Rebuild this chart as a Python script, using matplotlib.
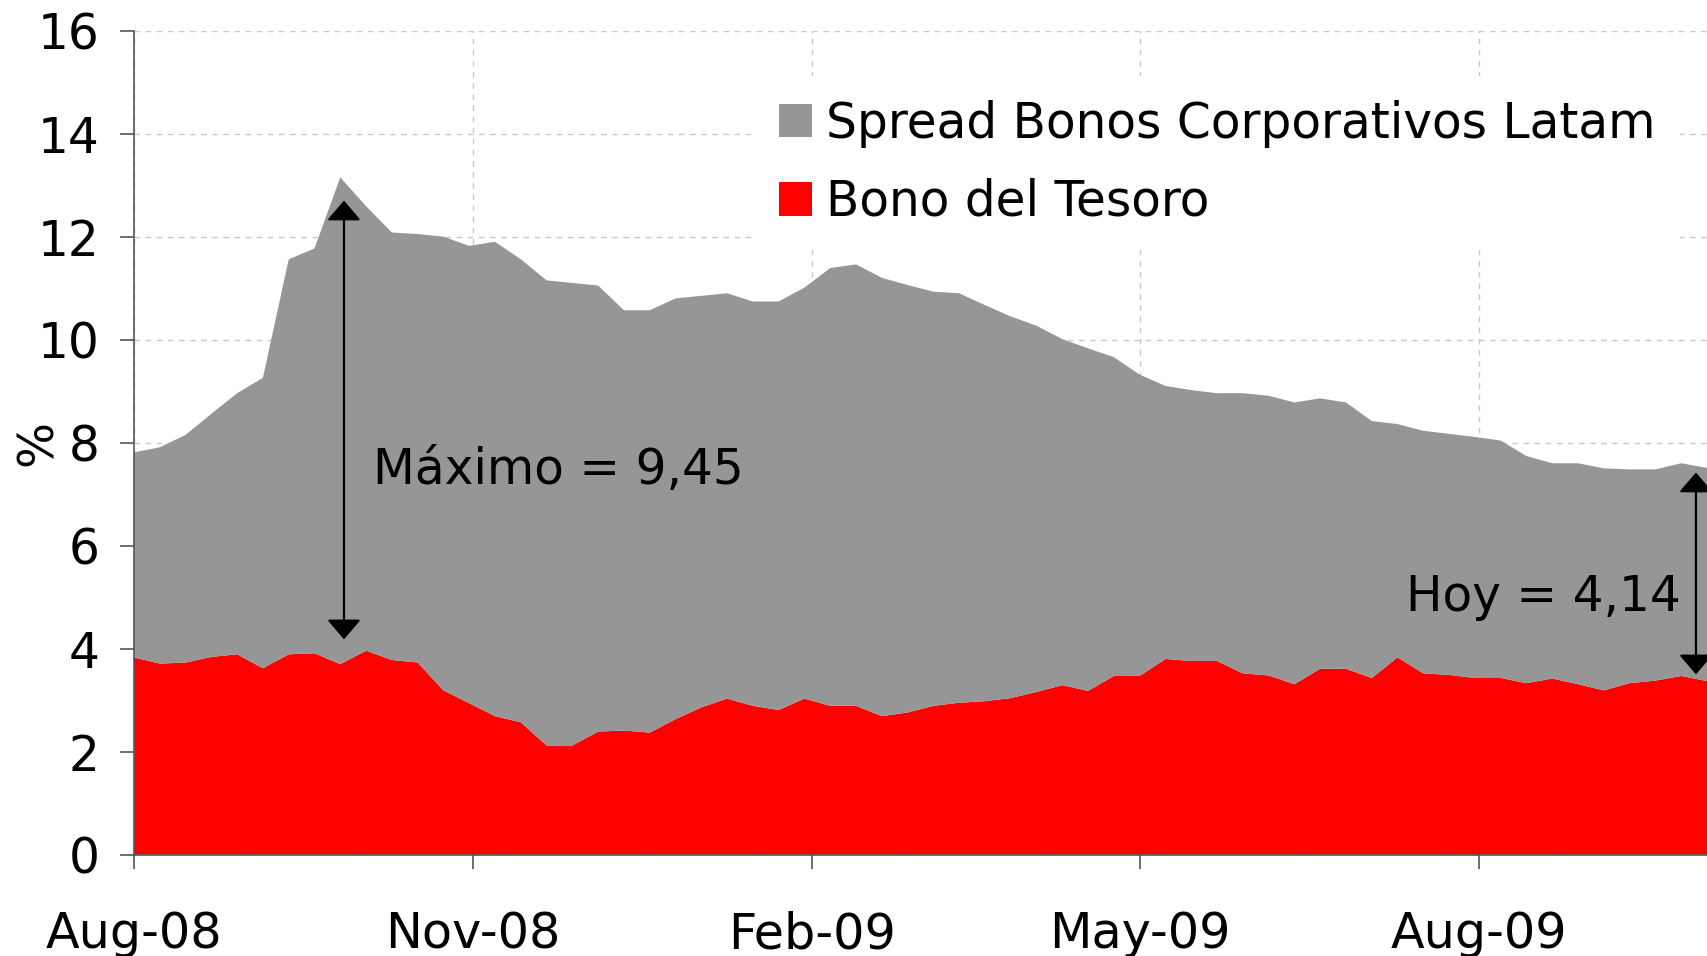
import matplotlib
matplotlib.use("Agg")
import matplotlib.pyplot as plt
import matplotlib.dates as mdates
from matplotlib.patches import Patch
import pandas as pd

plt.rcParams['font.family'] = ['DejaVu Sans']

# Weekly observations, Aug-2008 .. Oct-2009
dates = pd.date_range("2008-08-01", periods=62, freq="7D")

bono_tesoro = [3.83, 3.71, 3.73, 3.84, 3.89, 3.62, 3.89, 3.91, 3.70, 3.96,
               3.78, 3.73, 3.19, 2.94, 2.69, 2.57, 2.12, 2.12, 2.39, 2.41,
               2.37, 2.63, 2.86, 3.03, 2.89, 2.81, 3.03, 2.89, 2.89, 2.69,
               2.76, 2.89, 2.95, 2.98, 3.04, 3.16, 3.29, 3.18, 3.47, 3.47,
               3.80, 3.76, 3.76, 3.52, 3.48, 3.31, 3.61, 3.61, 3.43, 3.83,
               3.52, 3.49, 3.43, 3.43, 3.33, 3.42, 3.31, 3.19, 3.33, 3.38,
               3.47, 3.37]

spread_latam = [3.98, 4.20, 4.42, 4.72, 5.07, 5.64, 7.67, 7.86, 9.45, 8.63,
                8.30, 8.32, 8.81, 8.88, 9.21, 8.99, 9.03, 8.98, 8.66, 8.16,
                8.20, 8.17, 7.99, 7.87, 7.85, 7.93, 7.98, 8.50, 8.57, 8.51,
                8.30, 8.04, 7.95, 7.69, 7.41, 7.11, 6.72, 6.65, 6.19, 5.85,
                5.30, 5.26, 5.20, 5.44, 5.43, 5.47, 5.25, 5.17, 4.99, 4.53,
                4.71, 4.68, 4.68, 4.61, 4.41, 4.18, 4.29, 4.31, 4.15, 4.10,
                4.13, 4.14]

series_labels = ["Spread Bonos Corporativos Latam", "Bono del Tesoro"]
tick_dates = ["2008-08-01", "2008-11-01", "2009-02-01", "2009-05-01", "2009-08-01"]
y_ticks = [0, 2, 4, 6, 8, 10, 12, 14, 16]

GREY = "#969696"
RED = "#ff0000"

fig = plt.figure(figsize=(17.07, 9.56), dpi=100)
ax = fig.add_axes([0.0785, 0.106, 0.9215, 0.862])

ax.stackplot(dates, bono_tesoro, spread_latam, colors=[RED, GREY], linewidth=0)

ax.set_xlim(pd.Timestamp("2008-08-01"), dates[-1])
ax.set_ylim(0, 16)
ax.set_yticks(y_ticks)
ax.set_xticks(pd.to_datetime(tick_dates))
ax.xaxis.set_major_formatter(mdates.DateFormatter("%b-%y"))

ax.set_axisbelow(True)
ax.grid(True, linestyle=(0, (4, 4)), color="#c8c8c8", linewidth=1.0)

for s in ["top", "right"]:
    ax.spines[s].set_visible(False)
for s in ["left", "bottom"]:
    ax.spines[s].set_color("#555555")
    ax.spines[s].set_linewidth(1.2)

ax.tick_params(axis="y", length=10, width=1.2, color="#555555", labelsize=35, pad=15)
ax.tick_params(axis="x", length=10, width=1.2, color="#555555", labelsize=35.5, pad=30)

ax.set_ylabel("%", fontsize=35, labelpad=0)
ax.yaxis.set_label_coords(-0.046, 0.5)

# annotations
arrow_kw = dict(arrowstyle="<|-|>,head_length=0.35,head_width=0.3",
                color="black", lw=1.6, mutation_scale=35, shrinkA=0, shrinkB=0)
ax.annotate("", xy=(pd.Timestamp("2008-09-27"), 12.70),
            xytext=(pd.Timestamp("2008-09-27"), 4.18), arrowprops=arrow_kw)
ax.text(pd.Timestamp("2008-10-05"), 7.46, "Máximo = 9,45", fontsize=35,
        ha="left", va="center")

ax.annotate("", xy=(pd.Timestamp("2009-09-29"), 7.42),
            xytext=(pd.Timestamp("2009-09-29"), 3.50), arrowprops=arrow_kw)
ax.text(pd.Timestamp("2009-09-25"), 5.01, "Hoy = 4,14", fontsize=35,
        ha="right", va="center")

handles = [Patch(facecolor=GREY, edgecolor="none"),
           Patch(facecolor=RED, edgecolor="none")]
leg = ax.legend(handles, series_labels, loc="upper left",
                bbox_to_anchor=(0.442, 0.921), bbox_transform=fig.transFigure,
                fontsize=35, frameon=True, facecolor="white", edgecolor="none",
                framealpha=1.0, fancybox=False, handlelength=0.68,
                handleheight=0.68, handletextpad=0.3, labelspacing=0.62,
                borderpad=0.5, borderaxespad=0)

fig.savefig("out.png", dpi=100)
